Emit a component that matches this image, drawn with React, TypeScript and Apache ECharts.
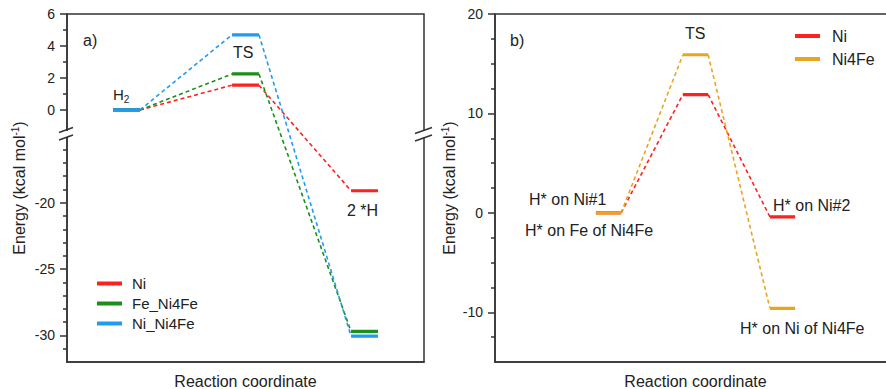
import React, { useEffect, useRef } from 'react';
import * as echarts from 'echarts';

// ---------- data ----------
const leftStages = ['H2', 'TS', '2 *H'];
const leftNi = [0, 1.55, -19.1];
const leftFeNi4Fe = [0, 2.25, -29.7];
const leftNiNi4Fe = [0, 4.7, -30.05];

const rightStages = ['H* on Ni#1', 'TS', 'H* on Ni#2'];
const rightNi = [0, 11.9, -0.4];
const rightNi4Fe = [0, 15.9, -9.6];

const leftMajorTicks = [6, 4, 2, 0, -20, -25, -30];
const leftMinorTicks = [5, 3, 1, -16, -17, -18, -19, -21, -22, -23, -24, -26, -27, -28, -29, -31];
const rightMajorTicks = [-10, 0, 10, 20];
const rightMinorTicks = [-12.5, -7.5, -5, -2.5, 2.5, 5, 7.5, 12.5, 15, 17.5];

// ---------- broken-axis transform for left panel ----------
const UPPER_END = -1.5;
const LOWER_START = -15;
const GAP = 0.15;
const K = 0.83;
const tf = (v: number) => (v >= UPPER_END ? v : UPPER_END - GAP - (LOWER_START - v) * K);
const LMIN = tf(-32);
const LMAX = 6;

const FONT = 'Liberation Sans, Arial, sans-serif';
const AX = '#333';
const TXT = '#222';
const RED = '#ff2020';
const GREEN = '#1b8f1b';
const BLUE = '#1f9cf2';
const ORANGE = '#e8a520';

const leftX = (i: number) => i + 0.5;
const rightX = (i: number) => i + 1;
const LHW = 0.113;
const RHW = 0.145;

function levelData(vals: number[], xOf: (i: number) => number, hw: number, f: (v: number) => number) {
  const d: any[] = [];
  vals.forEach((v, i) => {
    const c = xOf(i);
    d.push([c - hw, f(v)], [c + hw, f(v)], [c + hw, '-']);
  });
  return d;
}
function connData(vals: number[], xOf: (i: number) => number, hw: number, f: (v: number) => number) {
  const d: any[] = [];
  for (let i = 0; i < vals.length - 1; i++) {
    d.push([xOf(i) + hw, f(vals[i])], [xOf(i + 1) - hw, f(vals[i + 1])], [xOf(i + 1) - hw, '-']);
  }
  return d;
}

function levelSeries(name: string, color: string, data: any[], gi: number) {
  return {
    name, type: 'line', xAxisIndex: gi, yAxisIndex: gi === 0 ? 0 : 2, data,
    color, showSymbol: false, symbol: 'none', connectNulls: false, silent: true, clip: false,
    lineStyle: { color, width: 3.2, cap: 'butt' }, z: 3,
  };
}
function connSeries(name: string, color: string, data: any[], gi: number) {
  return {
    name, type: 'line', xAxisIndex: gi, yAxisIndex: gi === 0 ? 0 : 2, data,
    showSymbol: false, symbol: 'none', connectNulls: false, silent: true, clip: false,
    lineStyle: { color, width: 1.6, type: [4, 3] }, z: 2,
  };
}

const yName = 'Energy (kcal mol{sup|-1})';
const nameStyle = {
  fontSize: 16, fontFamily: FONT, color: TXT, lineHeight: 18,
  rich: { sup: { fontSize: 10, fontFamily: FONT, color: TXT, verticalAlign: 'top' } },
};

function text(x: number, y: number, t: string, size = 16) {
  return { type: 'text', x, y, silent: true, style: { text: t, fontSize: size, fontFamily: FONT, fill: TXT, align: 'left', verticalAlign: 'middle' } };
}

const xAxisBase = {
  type: 'value',
  axisLine: { show: true, onZero: false, lineStyle: { color: AX, width: 1.5 } },
  axisTick: { show: false }, axisLabel: { show: false }, splitLine: { show: false },
  name: 'Reaction coordinate', nameLocation: 'middle', nameGap: 11,
  nameTextStyle: { fontSize: 16, fontFamily: FONT, color: TXT },
};

export default function App() {
  const ref = useRef<HTMLDivElement>(null);
  useEffect(() => {
    const chart = echarts.init(ref.current as HTMLDivElement, null, { renderer: 'svg' });
    const labelOf = (v: number) => {
      const t = leftMajorTicks.find((m) => Math.abs(tf(m) - v) < 1e-6);
      return t === undefined ? '' : String(t);
    };
    const option: any = {
      animation: false,
      backgroundColor: '#fff',
      grid: [
        { left: 67, top: 14, width: 357, height: 348, outerBoundsMode: 'none', containLabel: false, show: true, borderColor: AX, borderWidth: 1.5, backgroundColor: 'transparent' },
        { left: 495, top: 14, width: 401, height: 348, outerBoundsMode: 'none', containLabel: false, show: true, borderColor: AX, borderWidth: 1.5, backgroundColor: 'transparent' },
      ],
      xAxis: [
        { ...xAxisBase, gridIndex: 0, min: 0, max: 3 },
        { ...xAxisBase, gridIndex: 1, min: -0.305, max: -0.305 + 401 / 87 },
      ],
      yAxis: [
        {
          gridIndex: 0, type: 'value', min: LMIN, max: LMAX, position: 'left',
          axisLine: { show: true, onZero: false, lineStyle: { color: AX, width: 1.5 } },
          axisTick: { show: true, length: 7, customValues: leftMajorTicks.map(tf), lineStyle: { color: AX, width: 1.5 } },
          axisLabel: { customValues: leftMajorTicks.map(tf), formatter: labelOf, margin: 12, fontSize: 14, fontFamily: FONT, color: TXT },
          splitLine: { show: false },
          name: yName, nameLocation: 'middle', nameGap: 39, nameRotate: 90, nameTextStyle: nameStyle,
        },
        {
          gridIndex: 0, type: 'value', min: LMIN, max: LMAX, position: 'left',
          axisLine: { show: false, onZero: false },
          axisTick: { show: true, length: 4, customValues: leftMinorTicks.map(tf), lineStyle: { color: AX, width: 1.5 } },
          axisLabel: { show: false }, splitLine: { show: false },
        },
        {
          gridIndex: 1, type: 'value', min: -15, max: 20, position: 'left',
          axisLine: { show: true, onZero: false, lineStyle: { color: AX, width: 1.5 } },
          axisTick: { show: true, length: 7, customValues: rightMajorTicks, lineStyle: { color: AX, width: 1.5 } },
          axisLabel: { customValues: rightMajorTicks, margin: 12, fontSize: 14, fontFamily: FONT, color: TXT },
          splitLine: { show: false },
          name: yName, nameLocation: 'middle', nameGap: 31, nameRotate: 90, nameTextStyle: nameStyle,
        },
        {
          gridIndex: 1, type: 'value', min: -15, max: 20, position: 'left',
          axisLine: { show: false, onZero: false },
          axisTick: { show: true, length: 4, customValues: rightMinorTicks, lineStyle: { color: AX, width: 1.5 } },
          axisLabel: { show: false }, splitLine: { show: false },
        },
      ],
      legend: [
        {
          data: ['Ni', 'Fe_Ni4Fe', 'Ni_Ni4Fe'], orient: 'vertical', left: 92, top: 271,
          icon: 'rect', itemWidth: 25, itemHeight: 4, itemGap: 5, selectedMode: false,
          textStyle: { fontSize: 15, fontFamily: FONT, color: TXT, padding: [0, 0, 0, 5] },
        },
        {
          data: ['Ni', 'Ni4Fe'], orient: 'vertical', left: 790, top: 23,
          icon: 'rect', itemWidth: 25, itemHeight: 4, itemGap: 7, selectedMode: false,
          textStyle: { fontSize: 16, fontFamily: FONT, color: TXT, padding: [0, 0, 0, 7] },
        },
      ],
      series: [
        connSeries('c-ni', RED, connData(leftNi, leftX, LHW, tf), 0),
        connSeries('c-fe', GREEN, connData(leftFeNi4Fe, leftX, LHW, tf), 0),
        connSeries('c-nini', BLUE, connData(leftNiNi4Fe, leftX, LHW, tf), 0),
        levelSeries('Ni', RED, levelData(leftNi, leftX, LHW, tf), 0),
        levelSeries('Fe_Ni4Fe', GREEN, levelData(leftFeNi4Fe, leftX, LHW, tf), 0),
        levelSeries('Ni_Ni4Fe', BLUE, levelData(leftNiNi4Fe, leftX, LHW, tf), 0),
        connSeries('c-rni', RED, connData(rightNi, rightX, RHW, (v) => v), 1),
        connSeries('c-rni4fe', ORANGE, connData(rightNi4Fe, rightX, RHW, (v) => v), 1),
        levelSeries('Ni', RED, levelData(rightNi, rightX, RHW, (v) => v), 1),
        levelSeries('Ni4Fe', ORANGE, levelData(rightNi4Fe, rightX, RHW, (v) => v), 1),
      ],
      graphic: [
        // break marks left panel
        { type: 'rect', shape: { x: 62, y: 131, width: 8, height: 6 }, style: { fill: '#fff' }, z: 100 },
        { type: 'line', shape: { x1: 59, y1: 132.5, x2: 73, y2: 127.5 }, style: { stroke: AX, lineWidth: 1.5 }, z: 101 },
        { type: 'line', shape: { x1: 59, y1: 140, x2: 73, y2: 135 }, style: { stroke: AX, lineWidth: 1.5 }, z: 101 },
        { type: 'rect', shape: { x: 420, y: 131, width: 8, height: 6 }, style: { fill: '#fff' }, z: 100 },
        { type: 'line', shape: { x1: 415, y1: 133.5, x2: 432, y2: 127.5 }, style: { stroke: AX, lineWidth: 1.5 }, z: 101 },
        { type: 'line', shape: { x1: 415, y1: 141, x2: 432, y2: 135 }, style: { stroke: AX, lineWidth: 1.5 }, z: 101 },
        // panel labels
        text(83, 40, 'a)'),
        text(510, 40, 'b)'),
        {
          type: 'text', x: 113, y: 94, silent: true,
          style: {
            text: '{n|H}{s|2}', fontFamily: FONT, fill: TXT, align: 'left', verticalAlign: 'middle',
            rich: { n: { fontSize: 15, fontFamily: FONT, fill: TXT, lineHeight: 20 }, s: { fontSize: 10, fontFamily: FONT, fill: TXT, verticalAlign: 'bottom' } },
          },
        },
        text(233, 52, leftStages[1]),
        text(347, 210, leftStages[2]),
        text(685, 33, rightStages[1]),
        text(529, 199, rightStages[0]),
        text(525, 230, 'H* on Fe of Ni4Fe'),
        text(773, 205, rightStages[2]),
        text(740, 328, 'H* on Ni of Ni4Fe'),
      ],
    };
    chart.setOption(option);
    return () => chart.dispose();
  }, []);
  return <div ref={ref} style={{ position: 'absolute', left: 0, top: 0, width: 886, height: 389, background: '#fff' }} />;
}
